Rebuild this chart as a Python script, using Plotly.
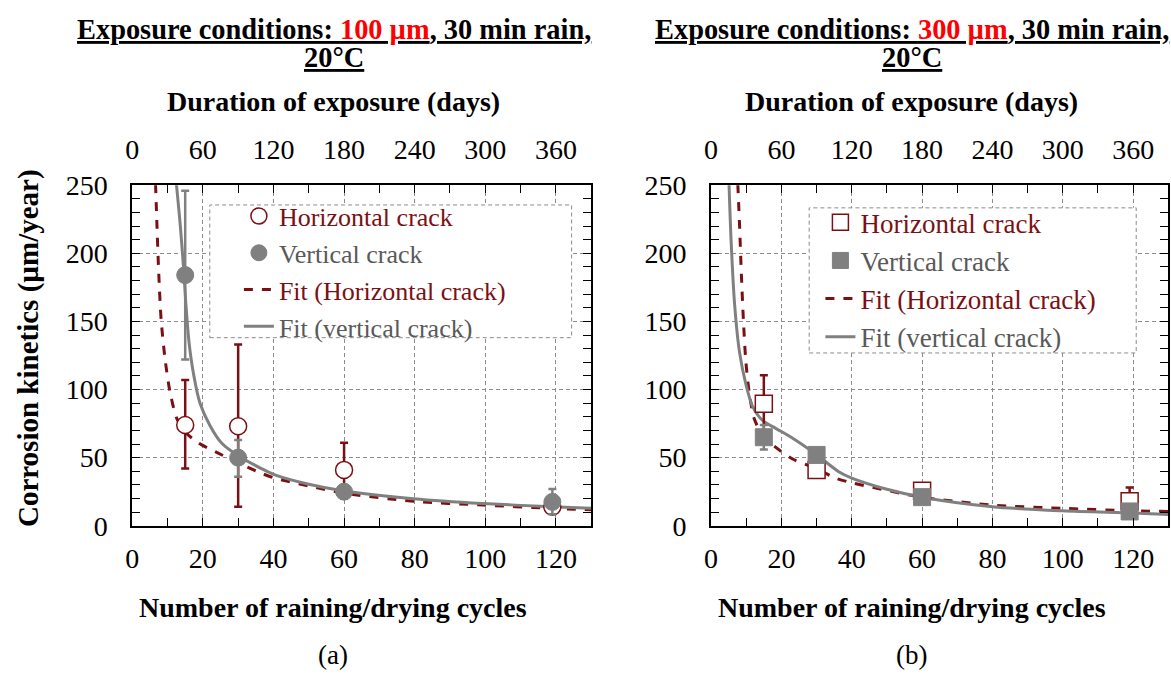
import plotly.graph_objects as go

# ---------------- data ----------------
cycles = [15, 30, 60, 119]
day_ticks = [0, 60, 120, 180, 240, 300, 360]

# (a) 100 µm
a_h_y = [74, 73, 41, 14]
a_h_ep = [33, 60, 20, 4]
a_h_em = [32, 59, 21, 4]
a_v_y = [184, 50, 25, 17.5]
a_v_ep = [62, 13, 4, 9.5]
a_v_em = [62, 14, 4, 9]

a_fit_h_x = [6.6, 7.0, 7.5, 8.2, 9.4, 10.8, 12.7, 15.0, 18.8, 23.5, 30.0, 36.6, 40.4, 50, 59.7, 79.7, 99.3, 118.9, 130]
a_fit_h_y = [251, 220.7, 185.7, 150.7, 120.3, 96.9, 78.3, 68.9, 60.7, 54.4, 46.2, 38.5, 35, 29.2, 24, 18, 15.2, 12.8, 11.7]
a_fit_v_x = [12.5, 13.6, 14.5, 15.2, 16.1, 17.4, 19.2, 22.0, 25.3, 30.0, 36.6, 40.4, 50, 59.7, 79.7, 99.3, 118.9, 130]
a_fit_v_y = [251, 220.7, 190.4, 162.4, 134.3, 110.9, 89.9, 73.6, 60.7, 51.4, 42, 37.4, 30.5, 25.7, 19.8, 16.3, 14, 12.8]

# (b) 300 µm
b_h_y = [89.5, 41, 25.7, 18]
b_h_ep = [21, 4, 3, 10]
b_h_em = [21, 4, 3, 10]
b_v_y = [65, 52, 21, 10.5]
b_v_ep = [9, 3, 3, 2]
b_v_em = [9, 3, 3, 2]

b_fit_h_x = [7.6, 8.1, 8.6, 9.2, 9.9, 10.9, 12.3, 14.7, 18.5, 23.2, 29.8, 35.4, 40.2, 60, 80, 100, 120, 130]
b_fit_h_y = [251, 220.7, 185.7, 150.7, 120.3, 96.9, 78.3, 66.6, 57.3, 49, 42, 35, 31.5, 21, 15.2, 12.8, 11, 10.5]
b_fit_v_x = [5.1, 5.7, 6.7, 8.1, 9.9, 11.8, 14.7, 18.5, 23.2, 29.8, 36.3, 40.0, 50, 60, 80, 100, 120, 130]
b_fit_v_y = [251, 209, 162.4, 127.3, 103.9, 87.6, 77.1, 71.3, 64.3, 52.6, 39.7, 35, 26.8, 21, 14, 11, 9.3, 8.2]

# ---------------- style ----------------
W, H = 1171, 684
RED = "#7B1014"
GRAY = "#808080"
GRAYTXT = "#595959"
FONT = "Liberation Serif"

def px(x):
    return x / W

def py(y):
    return 1 - y / H

fig = go.Figure()

def add_panel(xa, ya, leg, sym, fx_h, fy_h, fx_v, fy_v, h_y, h_ep, h_em, v_y, v_ep, v_em):
    fig.add_trace(go.Scatter(x=fx_h, y=fy_h, mode="lines", line=dict(color=RED, width=3, dash="dash", shape="spline", smoothing=0.8),
                             xaxis=xa, yaxis=ya, legend=leg, legendrank=3,
                             name=f"<span style='color:{RED}'>Fit (Horizontal crack)</span>"))
    fig.add_trace(go.Scatter(x=fx_v, y=fy_v, mode="lines", line=dict(color=GRAY, width=3, shape="spline", smoothing=0.8),
                             xaxis=xa, yaxis=ya, legend=leg, legendrank=4,
                             name=f"<span style='color:{GRAYTXT}'>Fit (vertical crack)</span>"))
    fig.add_trace(go.Scatter(x=cycles, y=h_y, mode="markers",
                             marker=dict(symbol=sym, size=17, color="white", line=dict(color=RED, width=1.5)),
                             error_y=dict(type="data", array=h_ep, arrayminus=h_em, color=RED, thickness=2.5, width=4),
                             xaxis=xa, yaxis=ya, legend=leg, legendrank=1,
                             name=f"<span style='color:{RED}'>Horizontal crack</span>"))
    fig.add_trace(go.Scatter(x=cycles, y=v_y, mode="markers",
                             marker=dict(symbol=sym, size=17, color=GRAY, line=dict(color=GRAY, width=1)),
                             error_y=dict(type="data", array=v_ep, arrayminus=v_em, color=GRAY, thickness=2.5, width=4),
                             xaxis=xa, yaxis=ya, legend=leg, legendrank=2,
                             name=f"<span style='color:{GRAYTXT}'>Vertical crack</span>"))

add_panel("x", "y", "legend", "circle", a_fit_h_x, a_fit_h_y, a_fit_v_x, a_fit_v_y,
          a_h_y, a_h_ep, a_h_em, a_v_y, a_v_ep, a_v_em)
add_panel("x2", "y2", "legend2", "square", b_fit_h_x, b_fit_h_y, b_fit_v_x, b_fit_v_y,
          b_h_y, b_h_ep, b_h_em, b_v_y, b_v_ep, b_v_em)

# carrier traces for the top (days) axes
fig.add_trace(go.Scatter(x=[0, 390], y=[None, None], xaxis="x3", yaxis="y", showlegend=False, hoverinfo="skip"))
fig.add_trace(go.Scatter(x=[0, 390], y=[None, None], xaxis="x4", yaxis="y2", showlegend=False, hoverinfo="skip"))

tickfont = dict(family=FONT, size=28, color="black")
grid = dict(showgrid=True, gridcolor="#8c8c8c", griddash="4px,3px", gridwidth=1)

def xbottom(domain, anchor):
    return dict(domain=domain, anchor=anchor, range=[0, 130], dtick=20, tick0=0,
                ticks="inside", ticklen=8, tickcolor="black", tickwidth=1.2,
                minor=dict(dtick=10, ticks="inside", ticklen=8, tickcolor="black", showgrid=False),
                showline=True, linecolor="black", linewidth=2, mirror=True,
                tickfont=tickfont, ticklabelstandoff=7, zeroline=False, **grid)

def ybottom(anchor):
    return dict(domain=[py(535), py(178.3)], anchor=anchor, range=[0, 250], dtick=50, tick0=0,
                ticks="inside", ticklen=8, tickcolor="black", tickwidth=1.2,
                minor=dict(dtick=10, ticks="inside", ticklen=5, tickcolor="black", showgrid=False),
                showline=True, linecolor="black", linewidth=2, mirror="allticks",
                tickfont=tickfont, ticklabelstandoff=17, zeroline=False, **grid)

def xtop(overlay, anchor):
    return dict(overlaying=overlay, anchor=anchor, side="top", range=[0, 390],
                tickvals=day_ticks, ticks="inside", ticklen=8, tickcolor="black", tickwidth=1.2,
                minor=dict(dtick=30, ticks="inside", ticklen=8, tickcolor="black", showgrid=False),
                showline=False, showgrid=False, zeroline=False,
                tickfont=tickfont, ticklabelstandoff=20)

fig.update_layout(
    width=W, height=H,
    margin=dict(l=0, r=0, t=0, b=0),
    paper_bgcolor="white", plot_bgcolor="white",
    xaxis=xbottom([px(126), px(587.7)], "y"),
    yaxis=ybottom("x"),
    xaxis2=xbottom([px(708.3), px(1168.3)], "y2"),
    yaxis2=ybottom("x2"),
    xaxis3=xtop("x", "y"),
    xaxis4=xtop("x2", "y2"),
    legend=dict(x=px(233.3), y=py(186), xanchor="left", yanchor="top", bgcolor="rgba(0,0,0,0)",
                font=dict(family=FONT, size=26), borderwidth=0, tracegroupgap=0),
    legend2=dict(x=px(818.3), y=py(192), xanchor="left", yanchor="top", bgcolor="rgba(0,0,0,0)",
                 font=dict(family=FONT, size=27), borderwidth=0, tracegroupgap=0),
    showlegend=True,
)

# dashed legend frames
for (x0, y0, x1, y1) in [(204, 199, 568, 338), (807, 202, 1136, 354)]:
    fig.add_shape(type="rect", xref="paper", yref="paper", x0=px(x0), x1=px(x1), y0=py(y1), y1=py(y0),
                  line=dict(color="#8c8c8c", width=1, dash="4px,3px"), fillcolor="white", layer="above")

def ann(text, x, y, size, bold=False, angle=0):
    if bold:
        text = f"<b>{text}</b>"
    fig.add_annotation(text=text, xref="paper", yref="paper", x=px(x), y=py(y), xanchor="center", yanchor="middle",
                       showarrow=False, textangle=angle, font=dict(family=FONT, size=size, color="black"))

ann("<u>Exposure conditions: <span style='color:#FF0000'>100 µm</span>, 30 min rain,</u>", 329, 15, 28.4, bold=True)
ann("<u>20°C</u>", 329, 45, 28.4, bold=True)
ann("<u>Exposure conditions: <span style='color:#FF0000'>300 µm</span>, 30 min rain,</u>", 910, 15, 28.4, bold=True)
ann("<u>20°C</u>", 910, 45, 28.4, bold=True)
ann("Duration of exposure (days)", 328, 91, 28, bold=True)
ann("Duration of exposure (days)", 910, 91, 28, bold=True)
ann("Number of raining/drying cycles", 328, 621, 28, bold=True)
ann("Number of raining/drying cycles", 910, 621, 28, bold=True)
ann("(a)", 328, 670, 27)
ann("(b)", 910, 670, 27)
ann("Corrosion kinetics (µm/year)", 21, 349, 29, bold=True, angle=-90)

fig.write_html("out.html", config={"displayModeBar": False},
               post_script="document.body.style.margin='0px';")
